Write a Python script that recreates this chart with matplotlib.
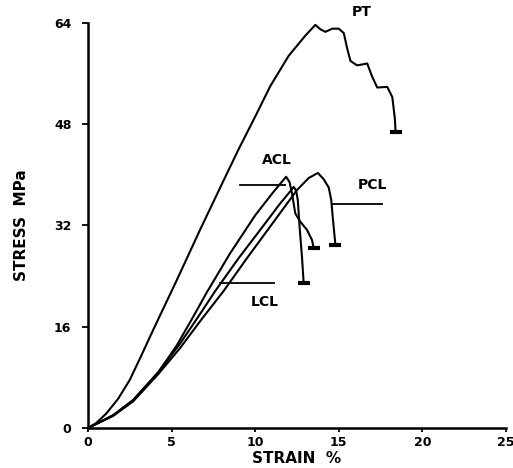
import numpy as np
import matplotlib
matplotlib.use("Agg")
import matplotlib.pyplot as plt

# stress-strain curves (strain %, stress MPa)
pt_x = [0, 0.5, 1.1, 1.8, 2.5, 3.2, 3.9, 5.3, 6.7, 8.0, 9.0, 10.0, 10.9, 12.0, 13.0,
        13.6, 13.9, 14.2, 14.6, 15.0, 15.3, 15.5, 15.7, 16.1, 16.7, 17.0, 17.3,
        17.9, 18.2, 18.35, 18.4]
pt_y = [0, 0.8, 2.3, 4.6, 7.6, 11.5, 15.5, 23.3, 31.3, 38.5, 44.0, 49.2, 54.0, 58.8, 62.0,
        63.7, 63.0, 62.6, 63.1, 63.1, 62.4, 60.0, 58.0, 57.3, 57.6, 55.5, 53.8,
        53.9, 52.3, 49.0, 46.8]

acl_x = [0, 1.5, 2.7, 4.2, 5.3, 6.3, 7.1, 8.5, 10.0, 11.0, 11.5, 11.85, 12.05, 12.2,
         12.4, 12.7, 13.1, 13.4, 13.5]
acl_y = [0, 2.0, 4.4, 8.8, 13.0, 17.6, 21.4, 27.6, 33.6, 37.0, 38.6, 39.7, 38.9, 37.1,
         33.9, 32.6, 31.3, 29.7, 28.4]

lcl_x = [0, 1.5, 2.7, 4.2, 5.5, 6.6, 7.6, 9.0, 10.5, 11.5, 12.1, 12.3, 12.45, 12.55,
         12.65, 12.8, 12.9]
lcl_y = [0, 2.0, 4.4, 8.8, 13.3, 17.6, 21.6, 26.8, 32.0, 35.5, 37.4, 38.1, 37.5, 36.0,
         32.0, 27.0, 22.9]

pcl_x = [0, 1.5, 2.7, 4.2, 5.5, 6.8, 8.1, 9.5, 11.0, 12.5, 13.2, 13.75, 14.1,
         14.4, 14.55, 14.65, 14.8]
pcl_y = [0, 1.9, 4.2, 8.5, 12.6, 17.2, 21.6, 26.8, 32.2, 37.6, 39.5, 40.3, 39.3,
         38.0, 36.0, 33.0, 28.9]

# label text positions and their leader lines
labels = ["PT", "ACL", "PCL", "LCL"]
label_x = [16.4, 11.3, 17.0, 10.6]
label_y = [65.7, 42.3, 38.4, 19.9]
leader_x = [None, (9.1, 11.8), (14.6, 17.6), (7.9, 11.1)]
leader_y = [None, 38.4, 35.4, 22.9]

xticks = [0, 5, 10, 15, 20, 25]
yticks = [0, 16, 32, 48, 64]

plt.rcParams['font.family'] = ['DejaVu Sans']
fig = plt.figure(figsize=(5.13, 4.68), dpi=100)
ax = fig.add_axes([0.1715, 0.0855, 0.8148, 0.8654])

for xs, ys in [(pt_x, pt_y), (acl_x, acl_y), (lcl_x, lcl_y), (pcl_x, pcl_y)]:
    ax.plot(xs, ys, color='black', lw=1.5, solid_joinstyle='round')
    # failure marks at the end of each curve
    ax.plot(xs[-1], ys[-1], marker='_', ms=8, mew=3, color='black')

for name, tx, ty, lx, ly in zip(labels, label_x, label_y, leader_x, leader_y):
    ax.text(tx, ty, name, fontsize=10, fontweight='bold', ha='center', va='center')
    if lx is not None:
        ax.plot(lx, [ly, ly], color='black', lw=1.3)

ax.set_xlim(0, 25)
ax.set_ylim(0, 64)
ax.set_xticks(xticks)
ax.set_yticks(yticks)
ax.set_xticklabels([str(t) for t in xticks], fontsize=9, fontweight='bold')
ax.set_yticklabels([str(t) for t in yticks], fontsize=9, fontweight='bold')
ax.tick_params(axis='x', length=3, width=1.3, direction='out', pad=3)
ax.tick_params(axis='y', length=4, width=1.3, direction='out', pad=8)
for s in ['top', 'right']:
    ax.spines[s].set_visible(False)
for s in ['left', 'bottom']:
    ax.spines[s].set_linewidth(1.8)

ax.set_xlabel('STRAIN  %', fontsize=11, fontweight='bold', labelpad=1)
ax.set_ylabel('STRESS  MPa', fontsize=11, fontweight='bold', labelpad=18)

fig.savefig('out.png', dpi=100)
